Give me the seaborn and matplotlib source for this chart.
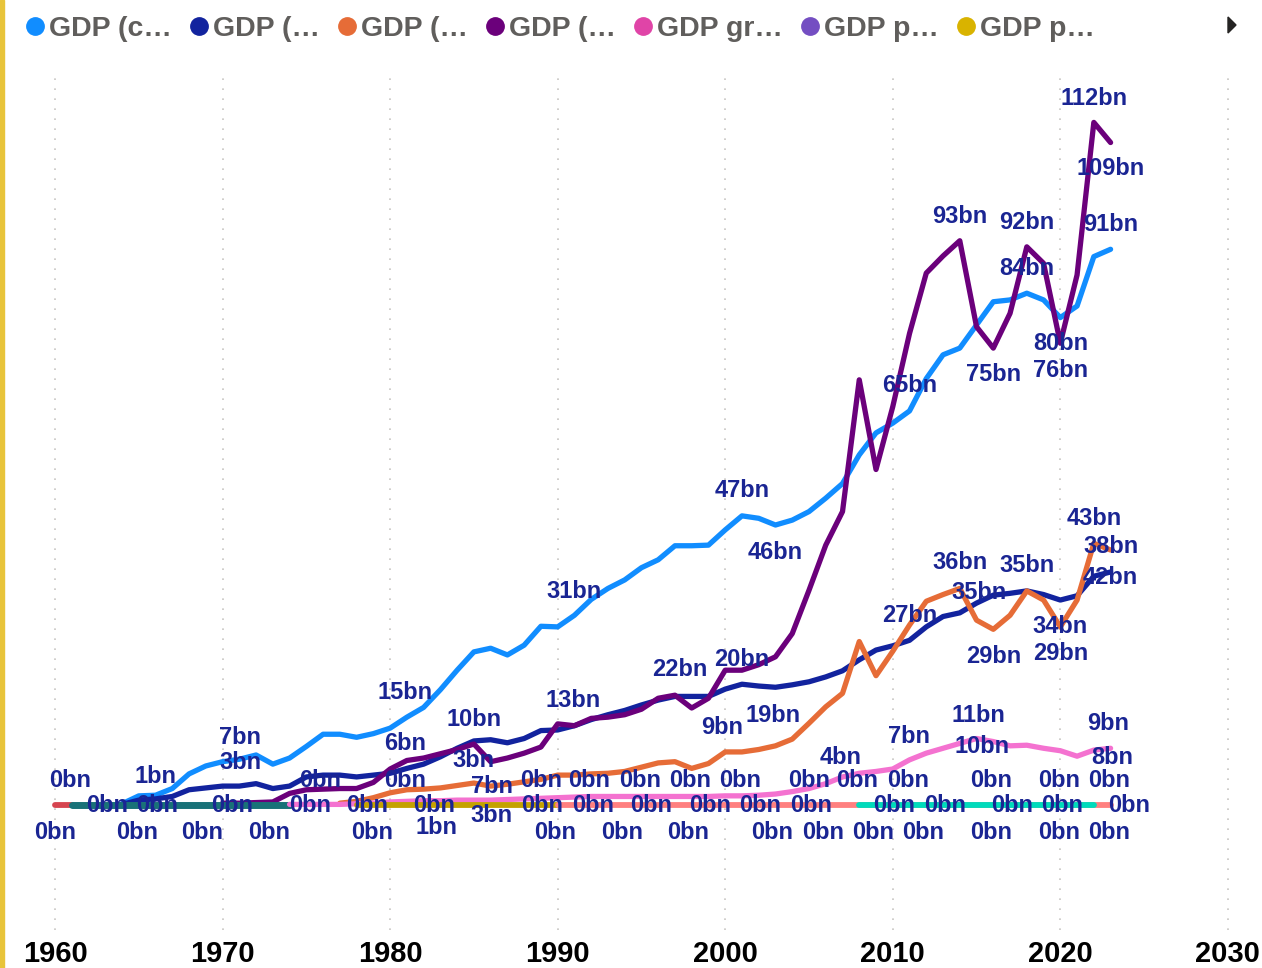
import pandas as pd
import seaborn as sns
import matplotlib.pyplot as plt
from matplotlib.lines import Line2D
from matplotlib.patches import Rectangle, Polygon

sns.set_theme(style='white')
plt.rcParams['font.family'] = ['Liberation Sans', 'DejaVu Sans']

# values in bn
years_a = list(range(1964, 2024))
gdp_current_usd = [0.2, 1.5, 1.6, 2.7, 5.1, 6.4, 7.1, 7.5, 8.2, 6.7,
                   7.7, 9.6, 11.6, 11.6, 11.1, 11.7, 12.6, 14.4, 16.0, 18.9,
                   22.1, 25.1, 25.7, 24.6, 26.2, 29.3, 29.2, 31.1, 33.7, 35.5,
                   36.9, 38.9, 40.2, 42.5, 42.5, 42.6, 45.1, 47.4, 47.0, 45.9,
                   46.7, 48.1, 50.3, 52.7, 57.4, 61.0, 62.6, 64.6, 69.9, 73.8,
                   74.9, 78.7, 82.5, 82.8, 83.9, 82.8, 79.9, 81.8, 89.9, 91.1]
gdp_constant_usd = [0.1, 0.8, 1.0, 1.4, 2.5, 2.8, 3.1, 3.1, 3.5, 2.7,
                    3.1, 4.6, 4.9, 4.9, 4.6, 4.9, 5.2, 6.0, 6.7, 7.9,
                    9.3, 10.5, 10.7, 10.2, 10.9, 12.2, 12.3, 13.0, 14.0, 14.8,
                    15.5, 16.4, 17.2, 17.8, 17.8, 17.8, 19.0, 19.8, 19.5, 19.3,
                    19.7, 20.2, 21.0, 22.0, 23.8, 25.4, 26.1, 27.0, 29.2, 30.9,
                    31.5, 33.1, 34.4, 34.7, 35.1, 34.5, 33.6, 34.3, 37.5, 38.2]
years_b = list(range(1977, 2024))
gdp_current_lcu = [0.3, 0.6, 1.2,
                   2.0, 2.5, 2.6, 2.8, 3.2, 3.6, 3.1, 3.4, 3.8, 4.2,
                   4.9, 4.9, 5.1, 5.2, 5.5, 6.2, 6.9, 7.1, 6.0, 6.8,
                   8.7, 8.7, 9.1, 9.7, 10.8, 13.4, 16.1, 18.3, 26.8, 21.2,
                   25.2, 29.5, 33.4, 34.5, 35.5, 30.3, 28.8, 31.1, 35.1, 33.6,
                   29.2, 33.6, 42.9, 41.8]
years_c = list(range(1970, 2024))
gdp_ppp = [0.3, 0.3, 0.4, 0.5, 1.9, 2.5, 2.6, 2.7, 2.7, 3.7,
           5.9, 7.3, 7.7, 8.4, 9.1, 10.0, 7.1, 7.7, 8.5, 9.5,
           13.3, 13.0, 14.2, 14.4, 14.8, 15.7, 17.5, 18.0, 15.9, 17.5,
           22.1, 22.1, 23.0, 24.3, 28.1, 35.2, 42.6, 48.1, 69.7, 55.0,
           65.3, 77.3, 87.2, 90.0, 92.5, 78.4, 74.9, 80.6, 91.5, 88.8,
           75.7, 86.9, 111.9, 108.6]
years_d = list(range(1974, 2024))
gni = [0.1, 0.1, 0.1, 0.1, 0.2, 0.3,
       0.5, 0.6, 0.7, 0.7, 0.8, 0.8, 0.8, 0.9, 1.0, 1.1,
       1.2, 1.3, 1.4, 1.4, 1.4, 1.4, 1.4, 1.4, 1.4, 1.4,
       1.5, 1.5, 1.6, 1.8, 2.2, 2.7, 3.5, 4.6, 5.2, 5.5,
       5.9, 7.4, 8.5, 9.3, 10.1, 10.9, 10.4, 9.7, 9.8, 9.3,
       8.9, 8.0, 9.0, 9.3]
# series that stay near zero
years_e = [1960, 1961]
series_e = [0.0, 0.0]
years_f = list(range(1961, 1975))
series_f = [0.0, 0.0, 0.0, 0.0, 0.0, 0.0, 0.0, 0.0, 0.0, 0.0, 0.0, 0.0, 0.0, 0.0]
years_g = list(range(1978, 1991))
series_g = [0.0, 0.0, 0.0, 0.0, 0.0, 0.0, 0.0, 0.0, 0.0, 0.0, 0.0, 0.0, 0.0]
years_h = list(range(1990, 2024))
series_h = [0.0, 0.0, 0.0, 0.0, 0.0, 0.0, 0.0, 0.0, 0.0, 0.0,
            0.0, 0.0, 0.0, 0.0, 0.0, 0.0, 0.0, 0.0, 0.0, 0.0,
            0.0, 0.0, 0.0, 0.0, 0.0, 0.0, 0.0, 0.0, 0.0, 0.0,
            0.0, 0.0, 0.0, 0.0]
years_i = list(range(2008, 2023))
series_i = [0.0, 0.0, 0.0, 0.0, 0.0, 0.0, 0.0, 0.0, 0.0, 0.0, 0.0, 0.0, 0.0, 0.0, 0.0]

legend_labels = ['GDP (c…', 'GDP (…', 'GDP (…', 'GDP (…', 'GDP gr…', 'GDP p…', 'GDP p…']
legend_colors = ['#118DFF', '#12239E', '#E66C37', '#6B007B', '#E044A7', '#744EC2', '#D9B300']

# (name, years, values, colour, linewidth)  -- draw order = Power BI series order
series = [
    ('gdp_current_usd', years_a, gdp_current_usd, '#118DFF', 3.8),
    ('gdp_constant_usd', years_a, gdp_constant_usd, '#12239E', 3.8),
    ('gdp_current_lcu', years_b, gdp_current_lcu, '#E66C37', 3.8),
    ('gdp_ppp', years_c, gdp_ppp, '#6B007B', 3.8),
    ('s_e', years_e, series_e, '#D64550', 4.2),
    ('s_f', years_f, series_f, '#197278', 5.0),
    ('gni', years_d, gni, '#F472D0', 3.8),
    ('s_g', years_g, series_g, '#C4A200', 4.2),
    ('s_h', years_h, series_h, '#FF8080', 4.2),
    ('s_i', years_i, series_i, '#00DBBC', 4.2),
]

frames = [pd.DataFrame({'year': yrs, 'value': vals, 'series': name}) for name, yrs, vals, _, _ in series]
df = pd.concat(frames, ignore_index=True)
lookup = {name: dict(zip(yrs, vals)) for name, yrs, vals, _, _ in series}

# data labels: (series, year, text, dx px, dy px)
point_labels = [
    ('gdp_ppp', 2022, '112bn', 0, 24), ('gdp_ppp', 2023, '109bn', 0, -26),
    ('gdp_ppp', 2014, '93bn', 0, 24), ('gdp_ppp', 2018, '92bn', 0, 24),
    ('gdp_current_usd', 2023, '91bn', 0, 25), ('gdp_current_usd', 2018, '84bn', 0, 25),
    ('gdp_current_usd', 2020, '80bn', 0, -26), ('gdp_ppp', 2016, '75bn', 0, -26),
    ('gdp_ppp', 2020, '76bn', 0, -27), ('gdp_current_usd', 2011, '65bn', 0, 25),
    ('gdp_current_usd', 2001, '47bn', 0, 25), ('gdp_current_usd', 2003, '46bn', 0, -27),
    ('gdp_current_lcu', 2022, '43bn', 0, 25), ('gdp_constant_usd', 2023, '38bn', 0, 25),
    ('gdp_current_lcu', 2023, '42bn', 0, -27), ('gdp_current_lcu', 2014, '36bn', 0, 26),
    ('gdp_current_lcu', 2018, '35bn', 0, 25), ('gdp_constant_usd', 2015, '35bn', 3, 11),
    ('gdp_constant_usd', 2011, '27bn', 0, 25), ('gdp_constant_usd', 2020, '34bn', 0, -26),
    ('gdp_current_lcu', 2016, '29bn', 0, -27), ('gdp_current_lcu', 2020, '29bn', 0, -27),
    ('gdp_current_usd', 1991, '31bn', 0, 24), ('gdp_constant_usd', 1997, '22bn', 5, 27),
    ('gdp_constant_usd', 2001, '20bn', 0, 25), ('gdp_constant_usd', 2003, '19bn', -2, -28),
    ('gdp_current_lcu', 2000, '9bn', -3, 24), ('gdp_current_usd', 1981, '15bn', -2, 25),
    ('gdp_constant_usd', 1991, '13bn', -1, 25), ('gdp_constant_usd', 1985, '10bn', 0, 21),
    ('gdp_current_usd', 1971, '7bn', 1, 22), ('gdp_constant_usd', 1971, '3bn', 1, 24),
    ('gdp_constant_usd', 1981, '6bn', -2, 25), ('gdp_current_lcu', 1985, '3bn', 0, 23),
    ('gdp_ppp', 1986, '7bn', 1, -25), ('gdp_current_lcu', 1986, '3bn', 1, -29),
    ('gni', 1983, '1bn', -4, -27), ('gdp_current_usd', 1966, '1bn', 0, 19),
    ('gni', 2007, '4bn', -2, 19), ('gni', 2011, '7bn', -1, 23),
    ('gni', 2015, '11bn', 2, 23), ('gni', 2016, '10bn', -11, -5),
    ('gni', 2023, '9bn', -2, 25), ('gni', 2023, '8bn', 2, -9),
]
# "0bn" labels of the near-zero series: (year, dy px)
zero_labels = [(y, 25) for y in [1960.9, 1975.8, 1980.9, 1989.0, 1991.9, 1994.9, 1997.9, 2000.9,
                                 2005.0, 2007.9, 2010.9, 2015.9, 2019.9, 2022.9]]
zero_labels += [(y, 0) for y in [1963.1, 1966.1, 1970.6, 1975.2, 1978.6, 1982.6, 1989.1, 1992.1,
                                 1995.6, 1999.1, 2002.1, 2005.1, 2010.1, 2013.1, 2017.1, 2020.1, 2024.1]]
zero_labels += [(y, -27) for y in [1960.0, 1964.9, 1968.8, 1972.8, 1978.9, 1989.85, 1993.85, 1997.8,
                                   2002.8, 2005.85, 2008.8, 2011.8, 2015.9, 2019.9, 2022.9]]

label_style = dict(ha='center', va='center', fontsize=17, fontweight='bold',
                   color='#1A2593', textcoords='offset pixels', zorder=10)

fig = plt.figure(figsize=(12.62, 9.68), dpi=100)
ax = fig.add_axes([0.01704, 0.03926, 0.97583, 0.88326])

for name, yrs, vals, color, lw in series:
    sns.lineplot(data=df[df['series'] == name], x='year', y='value', color=color,
                 linewidth=lw, estimator=None, errorbar=None, ax=ax,
                 solid_joinstyle='round', solid_capstyle='round')

for name, yr, text, dx, dy in point_labels:
    ax.annotate(text, (yr, lookup[name][yr]), xytext=(dx, dy), **label_style)
for yr, dy in zero_labels:
    ax.annotate('0bn', (yr, 0), xytext=(0, dy), **label_style)

ax.set_xlim(1958, 2031.5)
ax.set_ylim(-20.49, 119.67)
ax.set_xticks(range(1960, 2031, 10))
ax.set_yticks([])
ax.set_xlabel('')
ax.set_ylabel('')
ax.grid(axis='x', color='#C8C6C4', linestyle=(0, (1, 5)), linewidth=1.2)
ax.grid(axis='y', visible=False)
sns.despine(ax=ax, left=True, bottom=True)
ax.tick_params(axis='x', length=0, pad=7, labelsize=21, labelcolor='black')
for lab in ax.get_xticklabels():
    lab.set_fontweight('bold')

handles = [Line2D([0], [0], marker='o', linestyle='None', markersize=12.5,
                  markerfacecolor=c, markeredgecolor=c) for c in legend_colors]
leg = fig.legend(handles, legend_labels, loc='center left', bbox_to_anchor=(0.0166, 0.9705),
                 ncol=7, frameon=False, handletextpad=0.0, columnspacing=0.44,
                 handlelength=1.0, borderaxespad=0, borderpad=0,
                 prop=dict(weight='bold', size=20.5))
for t in leg.get_texts():
    t.set_color('#605E5C')

W, H = 1262, 968
fig.patches.append(Polygon([(1228 / W, 1 - 17 / H), (1236 / W, 1 - 25 / H), (1228 / W, 1 - 33 / H)],
                           closed=True, transform=fig.transFigure, color='#252423'))
fig.patches.append(Rectangle((0, 0), 4 / W, 1, transform=fig.transFigure, color='#E8C43A'))

plt.savefig('out.png', dpi=100)
